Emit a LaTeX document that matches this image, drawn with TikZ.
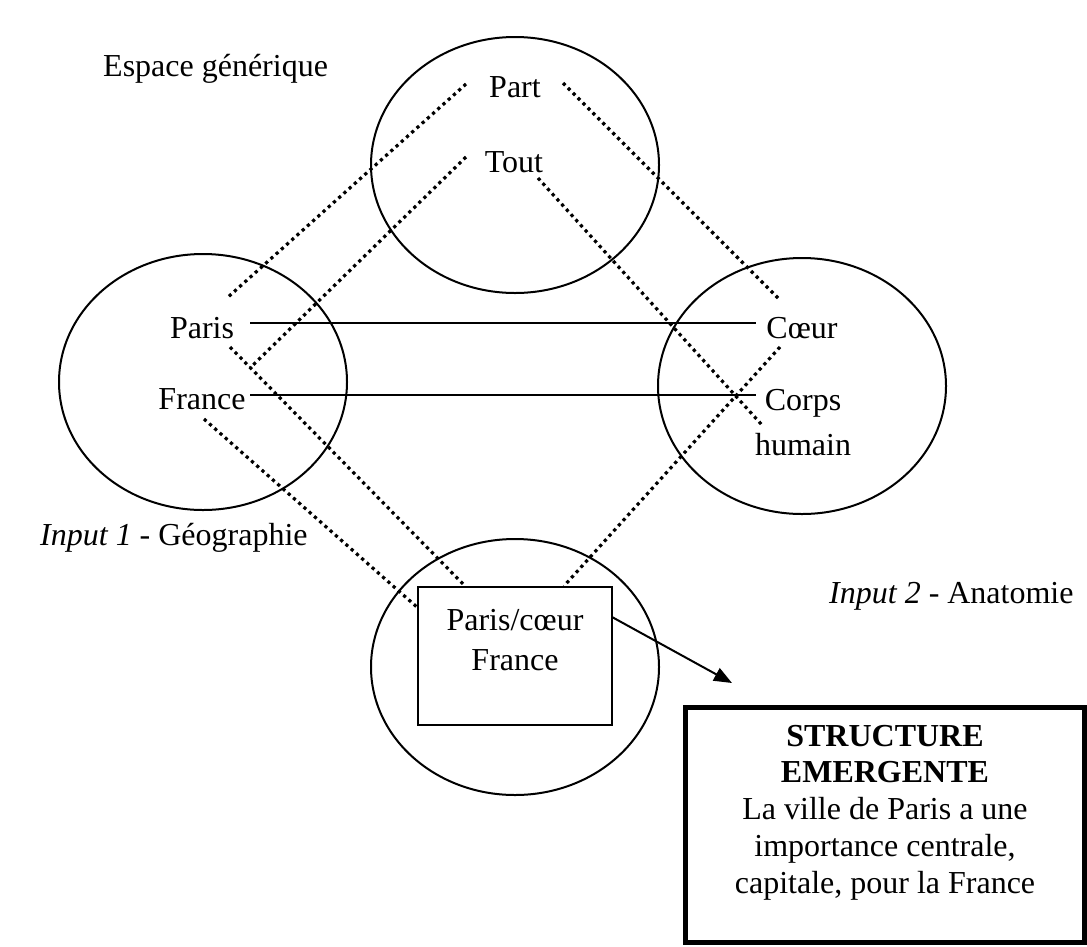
\documentclass[tikz,border=0pt]{standalone}
\usepackage{fontspec}
\setmainfont{Liberation Serif}
\usetikzlibrary{shapes.geometric,arrows.meta}
\begin{document}
\begin{tikzpicture}[x=1pt,y=-1pt,
  every node/.style={font=\fontsize{32}{36.7}\selectfont, inner sep=0pt},
  ring/.style={draw, ellipse, line width=2pt, minimum width=288pt, minimum height=256pt},
  link/.style={line width=2pt},
  dots/.style={line width=3.2pt, dash pattern=on 3.2pt off 3.8pt},
  lbl/.style={anchor=base},
]
\useasboundingbox (0,0) rectangle (1087,946);

% four mental spaces
\node[ring] (generic) at (515,165) {};
\node[ring] (input1) at (203,382) {};
\node[ring] (input2) at (802,386) {};
\node[ring] (blendring) at (515,667) {};

% blended space
\node[draw, line width=2pt, minimum width=194pt, minimum height=138pt] (blend) at (515,656) {};
\node[lbl, align=center] (blendtxt) at (515,670) {Paris/cœur\\[3.3pt]France};

% space titles
\node[anchor=base west] (gentitle) at (103,76) {Espace générique};
\node[anchor=base west] (in1title) at (40,545) {\textit{Input 1} - Géographie};
\node[anchor=base west] (in2title) at (829,603) {\textit{Input 2} - Anatomie};

% elements
\node[lbl] (part) at (515,97) {Part};
\node[lbl] (tout) at (514,172) {Tout};
\node[lbl] (paris) at (202,338) {Paris};
\node[lbl] (france) at (202,409) {France};
\node[lbl] (coeur) at (802,338) {Cœur};
\node[lbl, align=center] (corps) at (803,455) {Corps\\[8.3pt]humain};

% end points of the connectors
\coordinate (partL) at (466,84);
\coordinate (partR) at (563,83);
\coordinate (toutL) at (466,157);
\coordinate (toutR) at (538,178);
\coordinate (parisT) at (227,298);
\coordinate (parisB) at (230,347);
\coordinate (parisX) at (250,368);
\coordinate (franceB) at (204,419);
\coordinate (coeurT) at (779,299);
\coordinate (coeurB) at (780,347);
\coordinate (corpsT) at (762,425);
\coordinate (blendTL) at (465,586);
\coordinate (blendTR) at (564,586);
\coordinate (blendL) at (418,608);
\coordinate (parisR) at (250,323);
\coordinate (coeurL) at (756,323);
\coordinate (franceR) at (250,395);
\coordinate (corpsL) at (756,395);

% cross-space mappings
\draw[link] (parisR) -- (coeurL);
\draw[link] (franceR) -- (corpsL);

% projections from the generic space and into the blend
\draw[dots] (partL) -- (parisT);
\draw[dots] (partR) -- (coeurT);
\draw[dots] (toutL) -- (parisX);
\draw[dots] (toutR) -- (corpsT);
\draw[dots] (parisB) -- (blendTL);
\draw[dots] (franceB) -- (blendL);
\draw[dots] (coeurB) -- (blendTR);

% emergent structure
\draw[line width=5pt] (685.5,707.5) rectangle (1084.5,942.5);
\node[lbl, align=center] (emergent) at (885,893)
  {\textbf{STRUCTURE}\\\textbf{EMERGENTE}\\La ville de Paris a une\\importance centrale,\\capitale, pour la France};
\coordinate (arrowtip) at (732,683);
\coordinate (arrowstart) at (612,617);
\draw[link, -{Triangle[length=18pt,width=14pt]}] (arrowstart) -- (arrowtip);
\end{tikzpicture}
\end{document}
